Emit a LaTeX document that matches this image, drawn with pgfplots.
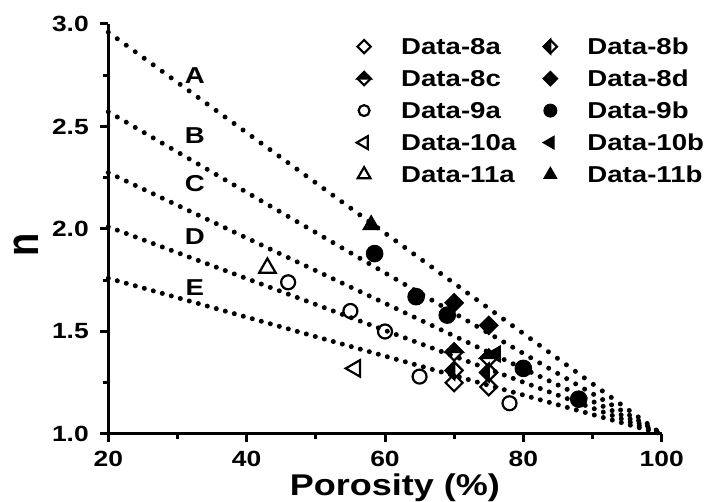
\documentclass[border=0pt]{standalone}
\usepackage{fontspec}
\setmainfont{Liberation Sans}[FakeStretch=1.2]
\newfontfamily\plainfont{Liberation Sans}
\usepackage{graphicx}
\usepackage{pgfplots}
\pgfplotsset{compat=1.18}

\pgfdeclareplotmark{dia}{%
  \pgfpathmoveto{\pgfqpoint{0pt}{\pgfplotmarksize}}%
  \pgfpathlineto{\pgfqpoint{\pgfplotmarksize}{0pt}}%
  \pgfpathlineto{\pgfqpoint{0pt}{-\pgfplotmarksize}}%
  \pgfpathlineto{\pgfqpoint{-\pgfplotmarksize}{0pt}}%
  \pgfpathclose
  \pgfusepathqstroke
}
\pgfdeclareplotmark{dia*}{%
  \pgfpathmoveto{\pgfqpoint{0pt}{\pgfplotmarksize}}%
  \pgfpathlineto{\pgfqpoint{\pgfplotmarksize}{0pt}}%
  \pgfpathlineto{\pgfqpoint{0pt}{-\pgfplotmarksize}}%
  \pgfpathlineto{\pgfqpoint{-\pgfplotmarksize}{0pt}}%
  \pgfpathclose
  \pgfusepathqfillstroke
}
\pgfdeclareplotmark{diatop}{%
  \pgfpathmoveto{\pgfqpoint{0pt}{\pgfplotmarksize}}%
  \pgfpathlineto{\pgfqpoint{\pgfplotmarksize}{0pt}}%
  \pgfpathlineto{\pgfqpoint{0pt}{-\pgfplotmarksize}}%
  \pgfpathlineto{\pgfqpoint{-\pgfplotmarksize}{0pt}}%
  \pgfpathclose
  \pgfusepathqstroke
  \pgfpathmoveto{\pgfqpoint{-\pgfplotmarksize}{0pt}}%
  \pgfpathlineto{\pgfqpoint{0pt}{\pgfplotmarksize}}%
  \pgfpathlineto{\pgfqpoint{\pgfplotmarksize}{0pt}}%
  \pgfpathclose
  \pgfusepathqfillstroke
}
\pgfdeclareplotmark{dialeft}{%
  \pgfpathmoveto{\pgfqpoint{0pt}{\pgfplotmarksize}}%
  \pgfpathlineto{\pgfqpoint{\pgfplotmarksize}{0pt}}%
  \pgfpathlineto{\pgfqpoint{0pt}{-\pgfplotmarksize}}%
  \pgfpathlineto{\pgfqpoint{-\pgfplotmarksize}{0pt}}%
  \pgfpathclose
  \pgfusepathqstroke
  \pgfpathmoveto{\pgfqpoint{0pt}{\pgfplotmarksize}}%
  \pgfpathlineto{\pgfqpoint{-\pgfplotmarksize}{0pt}}%
  \pgfpathlineto{\pgfqpoint{0pt}{-\pgfplotmarksize}}%
  \pgfpathclose
  \pgfusepathqfillstroke
}

\begin{document}
\begin{tikzpicture}[font=\bfseries]
\path[use as bounding box] (0,0) rectangle (709pt,502pt);
\begin{axis}[
  at={(108.3pt,68pt)}, anchor=south west,
  scale only axis, width=553.4pt, height=410pt,
  xmin=20, xmax=100, ymin=1, ymax=3,
  clip=false,
  axis lines*=left,
  axis line style={line width=3pt, black},
  xtick={20,40,60,80,100},
  ytick={1,1.5,2,2.5,3},
  minor x tick num=1, minor y tick num=1,
  tick align=outside,
  major tick length=8pt, minor tick length=5pt,
  tick style={line width=3pt, black},
  /pgf/number format/assume math mode=true,
  ticklabel style={font=\fontsize{22}{22}\selectfont\bfseries},
  xticklabel shift=6pt,
  yticklabel shift=8pt,
  yticklabel style={/pgf/number format/fixed, /pgf/number format/fixed zerofill, /pgf/number format/precision=1},
  xlabel={Porosity (\%)},
  xlabel style={font=\fontsize{30}{30}\selectfont\bfseries, at={(axis description cs:0.518,-0.149)}, anchor=base},
  ylabel={\scalebox{1}[1.2]{\fontsize{38}{38}\selectfont\plainfont\bfseries n}},
  ylabel style={at={(axis description cs:-0.148,0.46)}, anchor=center},
  legend columns=2,
  legend cell align=left,
  legend style={draw=none, fill=none, inner sep=0pt, outer sep=0pt,
    at={(axis cs:52.05,2.93)}, anchor=north west,
    font=\fontsize{23}{23}\selectfont\bfseries,
    column sep=0pt, row sep=15.5pt,
    nodes={inner sep=0pt, text height=16.5pt, text depth=0pt}},
  legend image code/.code={%
    \begin{scope}[#1]
      \pgfplotmarksize=0.78\pgfplotmarksize
      \draw plot coordinates {(0pt,0pt)};
    \end{scope}
    \path (-33pt,0pt) (36pt,0pt);
  },
]
% dotted model lines A-E
\addplot[forget plot, black, line width=5pt, line cap=round, dash pattern=on 0pt off 11.1pt] coordinates {(20,2.96) (100,1.0)};
\addplot[forget plot, black, line width=5pt, line cap=round, dash pattern=on 0pt off 10.4pt] coordinates {(20,2.572) (100,1.0)};
\addplot[forget plot, black, line width=5pt, line cap=round, dash pattern=on 0pt off 9.95pt] coordinates {(20,2.275) (100,1.0)};
\addplot[forget plot, black, line width=5pt, line cap=round, dash pattern=on 0pt off 9.61pt] coordinates {(20,2.011) (100,1.0)};
\addplot[forget plot, black, line width=5pt, line cap=round, dash pattern=on 0pt off 9.35pt] coordinates {(20,1.76) (100,1.0)};

\node[font=\fontsize{23}{23}\selectfont\bfseries] at (axis cs:32.5,2.746) {A};
\node[font=\fontsize{23}{23}\selectfont\bfseries] at (axis cs:32.5,2.454) {B};
\node[font=\fontsize{23}{23}\selectfont\bfseries] at (axis cs:32.5,2.220) {C};
\node[font=\fontsize{23}{23}\selectfont\bfseries] at (axis cs:32.5,1.961) {D};
\node[font=\fontsize{23}{23}\selectfont\bfseries] at (axis cs:32.5,1.712) {E};

% data
\addplot[black, only marks, mark=dia, mark size=8.5pt, line width=2.2pt] coordinates {(70,1.25) (75,1.23)};
\addlegendentry{Data-8a}
\addplot[black, only marks, mark=dialeft, mark size=8.5pt, line width=2.2pt] coordinates {(70,1.31) (75,1.30)};
\addlegendentry{Data-8b}
\addplot[black, only marks, mark=diatop, mark size=8.5pt, line width=2.2pt] coordinates {(70,1.40) (75,1.37)};
\addlegendentry{Data-8c}
\addplot[black, only marks, mark=dia*, mark size=8.5pt, line width=2.2pt] coordinates {(70,1.64) (75,1.53)};
\addlegendentry{Data-8d}
\addplot[black, only marks, mark=o, mark size=7pt, line width=2.2pt] coordinates {(46,1.74) (55,1.60) (60,1.50) (65,1.28) (78,1.15)};
\addlegendentry{Data-9a}
\addplot[black, only marks, mark=*, mark size=8.3pt, line width=1pt] coordinates {(58.5,1.88) (64.5,1.67) (69,1.58) (80,1.32) (88,1.17)};
\addlegendentry{Data-9b}
\addplot[black, only marks, mark=triangle, mark size=9.5pt, line width=2.2pt, mark options={rotate=90}] coordinates {(55.7,1.32)};
\addlegendentry{Data-10a}
\addplot[black, only marks, mark=triangle*, mark size=9.5pt, line width=1pt, mark options={rotate=90}] coordinates {(76,1.39)};
\addlegendentry{Data-10b}
\addplot[black, only marks, mark=triangle, mark size=9.5pt, line width=2.2pt] coordinates {(43,1.81)};
\addlegendentry{Data-11a}
\addplot[black, only marks, mark=triangle*, mark size=9.5pt, line width=1pt] coordinates {(58,2.02)};
\addlegendentry{Data-11b}
\end{axis}
\end{tikzpicture}
\end{document}
